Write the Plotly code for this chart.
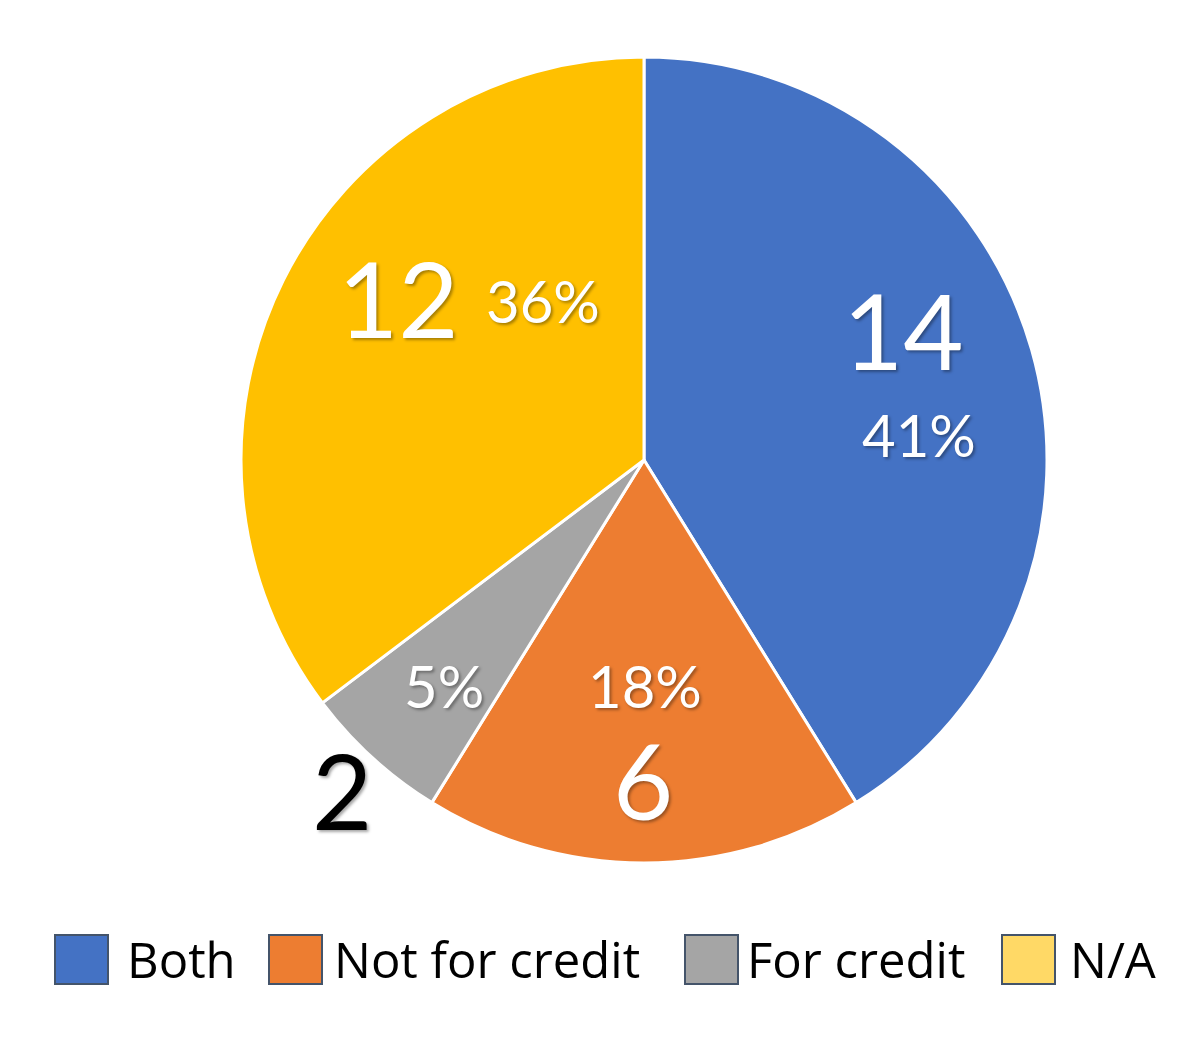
import plotly.graph_objects as go

# ---- data ----
categories = ["Both", "Not for credit", "For credit", "N/A"]
counts = [14, 6, 2, 12]
pct_labels = ["41%", "18%", "5%", "36%"]
slice_colors = ["#4472C4", "#ED7D31", "#A5A5A5", "#FFC000"]
legend_colors = ["#4472C4", "#ED7D31", "#A5A5A5", "#FFD966"]

W, H = 1200, 1037
OFF = 8  # page body margin offset
FONT = "Lato"
LEG_FONT = "Open Sans"


def px(x):
    return (x - OFF) / W


def py(y):
    return 1 - (y - OFF) / H


fig = go.Figure()
fig.add_trace(go.Pie(
    labels=categories,
    values=counts,
    sort=False,
    direction="clockwise",
    rotation=0,
    marker=dict(colors=slice_colors, line=dict(color="white", width=3)),
    textinfo="none",
    hoverinfo="label+value+percent",
    showlegend=False,
    domain=dict(x=[px(240), px(1048)], y=[py(863), py(57)]),
))

shadow = "2px 2px 3px rgba(0,0,0,0.35)"
# label placements (pixel positions of text centres)
count_pos = {"Both": (903, 333), "Not for credit": (643, 783), "For credit": (342, 793), "N/A": (399, 301)}
pct_pos = {"Both": (919, 435), "Not for credit": (645, 686), "For credit": (444, 686), "N/A": (543, 301)}

annotations = []
for cat, n, p in zip(categories, counts, pct_labels):
    cx, cy = count_pos[cat]
    col = "black" if cat == "For credit" else "white"
    annotations.append(dict(
        x=px(cx), y=py(cy), xref="paper", yref="paper", text=str(n), showarrow=False,
        xanchor="center", yanchor="middle", yshift=4,
        font=dict(family=FONT, size=104, color=col, shadow=shadow),
    ))
    qx, qy = pct_pos[cat]
    annotations.append(dict(
        x=px(qx), y=py(qy), xref="paper", yref="paper", text=p, showarrow=False,
        xanchor="center", yanchor="middle", yshift=1,
        font=dict(family=FONT, size=58, color="white", shadow=shadow),
    ))

# legend (drawn manually for large swatches)
legend_x = [55, 269, 685, 1002]
legend_text_x = [125, 332, 745, 1068]
shapes = []
for cat, col, lx, tx in zip(categories, legend_colors, legend_x, legend_text_x):
    shapes.append(dict(
        type="rect", xref="paper", yref="paper",
        x0=px(lx), x1=px(lx + 53), y0=py(984), y1=py(935),
        fillcolor=col, line=dict(color="#44546A", width=2),
    ))
    annotations.append(dict(
        x=px(tx), y=py(960), xref="paper", yref="paper", text=cat, showarrow=False,
        xanchor="left", yanchor="middle", yshift=1,
        font=dict(family=LEG_FONT, size=49, color="black"),
    ))

fig.update_layout(
    width=W, height=H,
    margin=dict(l=0, r=0, t=0, b=0),
    paper_bgcolor="white",
    plot_bgcolor="white",
    annotations=annotations,
    shapes=shapes,
    showlegend=False,
)

fig.write_html("out.html")
